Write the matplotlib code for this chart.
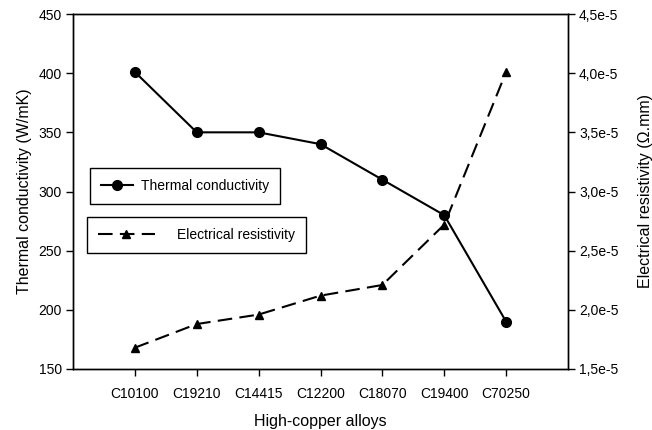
import numpy as np
import matplotlib.pyplot as plt
from matplotlib.ticker import FuncFormatter

plt.rcParams['font.family'] = ['Liberation Sans', 'DejaVu Sans']

# alloys and measured values
alloys = ['C10100', 'C19210', 'C14415', 'C12200', 'C18070', 'C19400', 'C70250']
thermal = [401, 350, 350, 340, 310, 280, 190]
resistivity = [1.68e-5, 1.88e-5, 1.96e-5, 2.12e-5, 2.21e-5, 2.72e-5, 4.01e-5]

fig = plt.figure(figsize=(6.52, 4.30), dpi=100)
ax = fig.add_axes([73/652, 1 - 369/430, 495/652, 355/430])
ax2 = ax.twinx()

x = np.arange(len(alloys))
l1, = ax.plot(x, thermal, '-', color='black', lw=1.5, marker='o', ms=7,
              label='Thermal conductivity')
l2, = ax2.plot(x, resistivity, color='black', lw=1.5, marker='^', ms=6,
               dashes=(7, 3.5), label='Electrical resistivity')

ax.set_xlim(-1, len(alloys))
ax.set_ylim(150, 450)
ax.set_yticks(np.arange(150, 451, 50))
ax2.set_ylim(1.5e-5, 4.5e-5)
ax2.set_yticks(np.arange(1.5e-5, 4.51e-5, 0.5e-5))
ax2.yaxis.set_major_formatter(FuncFormatter(lambda v, p: ('%.1fe-5' % (v * 1e5)).replace('.', ',')))

ax.set_xticks(x)
ax.set_xticklabels(alloys)
for a in (ax, ax2):
    a.tick_params(direction='out', length=5, width=1, labelsize=10, pad=3)
    for s in a.spines.values():
        s.set_linewidth(1)
ax.tick_params(axis='x', pad=8)

ax.set_xlabel('High-copper alloys', fontsize=11.5, labelpad=9)
ax.set_ylabel('Thermal conductivity (W/mK)', fontsize=11.5, labelpad=5)
ax2.set_ylabel('Electrical resistivity (\u03a9.mm)', fontsize=11.5, labelpad=14)

leg1 = ax.legend(handles=[l1], loc='upper left', bbox_to_anchor=(0.034, 0.566),
                 fontsize=10, fancybox=False, edgecolor='black', framealpha=1,
                 handlelength=2.3, handletextpad=0.6, borderpad=0.8, borderaxespad=0)
leg1.get_frame().set_linewidth(1)
leg2 = ax2.legend(handles=[l2], loc='upper left', bbox_to_anchor=(0.028, 0.428),
                  fontsize=10, fancybox=False, edgecolor='black', framealpha=1,
                  handlelength=4.1, handletextpad=1.6, borderpad=0.8, borderaxespad=0)
leg2.get_frame().set_linewidth(1)

fig.savefig('out.png', dpi=100)
